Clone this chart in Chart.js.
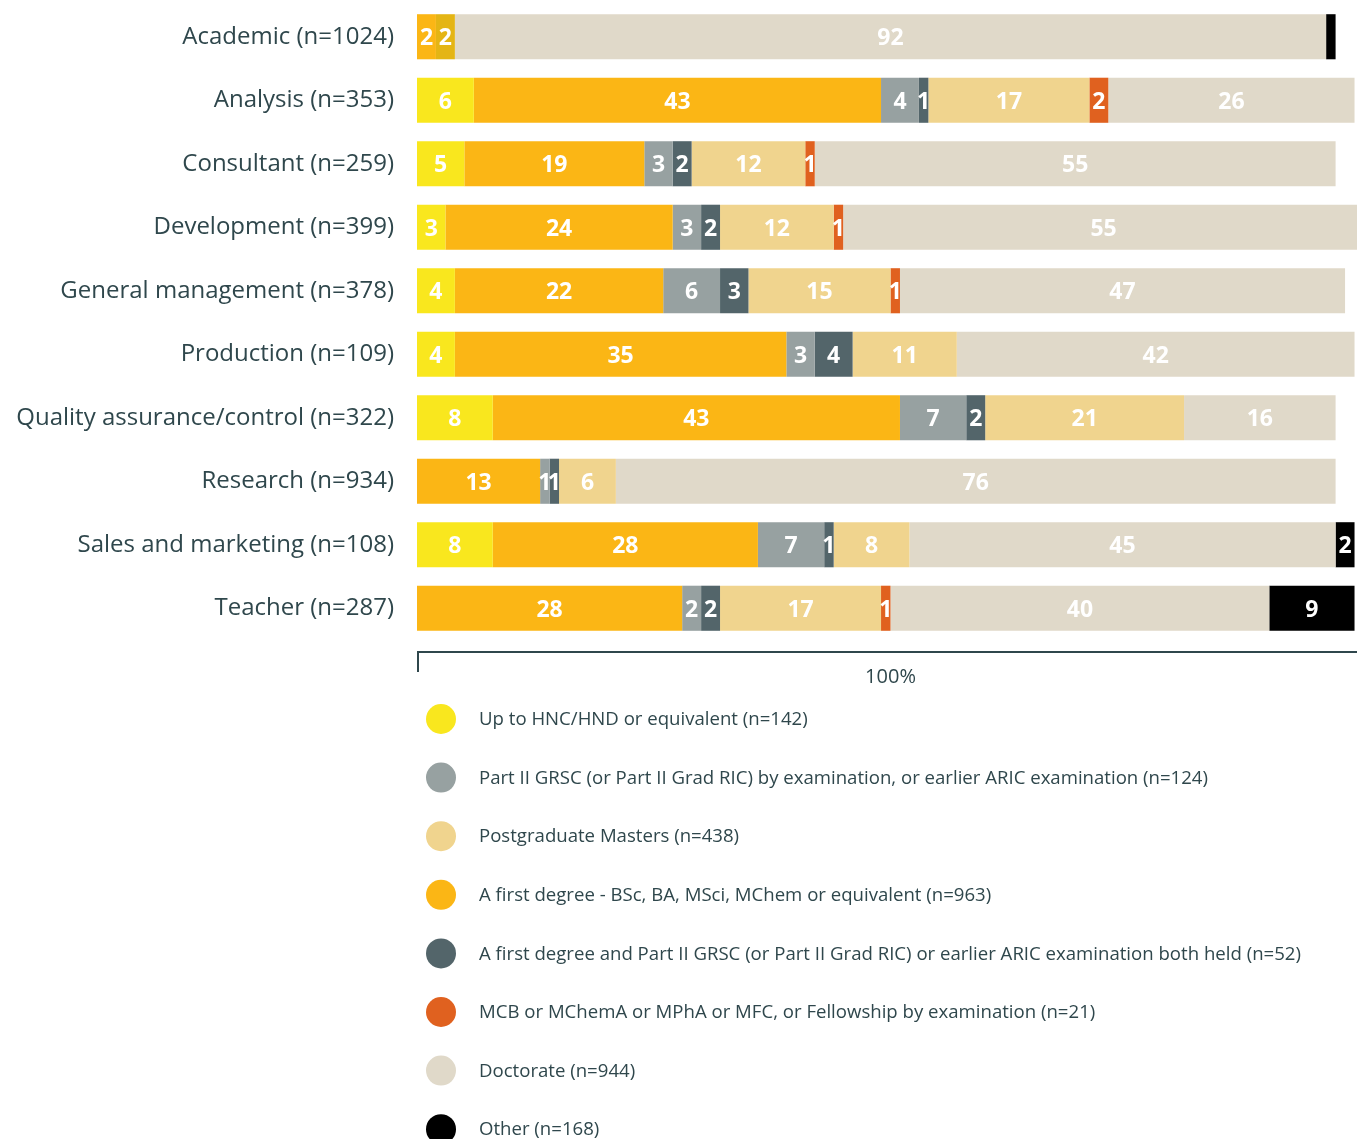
<!DOCTYPE html>
<html>
<head>
<meta charset="utf-8">
<title>Qualifications by job role</title>
<script src="https://cdn.jsdelivr.net/npm/chart.js@4"></script>
<style>
  html, body { margin: 0; padding: 0; background: #fff; overflow: hidden; }
  #wrap { width: 1370px; height: 1139px; position: relative; }
</style>
</head>
<body>
<div id="wrap"><canvas id="chart"></canvas></div>
<script>
// categories (job roles)
const categories = [
    "Academic (n=1024)",
    "Analysis (n=353)",
    "Consultant (n=259)",
    "Development (n=399)",
    "General management (n=378)",
    "Production (n=109)",
    "Quality assurance/control (n=322)",
    "Research (n=934)",
    "Sales and marketing (n=108)",
    "Teacher (n=287)"
];

// series values, % (stack order, left to right)
const hncVals       = [0, 6, 5, 3, 4, 4, 8, 0, 8, 0];
const firstVals     = [2, 43, 19, 24, 22, 35, 43, 13, 28, 28];
const partTwoVals   = [0, 4, 3, 3, 6, 3, 7, 1, 7, 2];
const bothVals      = [0, 1, 2, 2, 3, 4, 2, 1, 1, 2];
const mastersVals   = [2, 17, 12, 12, 15, 11, 21, 6, 8, 17];
const mcbVals       = [0, 2, 1, 1, 1, 0, 0, 0, 0, 1];
const doctorateVals = [92, 26, 55, 55, 47, 42, 16, 76, 45, 40];
const otherVals     = [1, 0, 0, 0, 0, 0, 0, 0, 2, 9];

// legend names
const seriesNames = [
    "Up to HNC/HND or equivalent (n=142)",
    "A first degree - BSc, BA, MSci, MChem or equivalent (n=963)",
    "Part II GRSC (or Part II Grad RIC) by examination, or earlier ARIC examination (n=124)",
    "A first degree and Part II GRSC (or Part II Grad RIC) or earlier ARIC examination both held (n=52)",
    "Postgraduate Masters (n=438)",
    "MCB or MChemA or MPhA or MFC, or Fellowship by examination (n=21)",
    "Doctorate (n=944)",
    "Other (n=168)"
];
const seriesColors = ["#F9E71E", "#FBB615", "#97A1A1", "#53656A", "#F0D48E", "#E0611F", "#E0D9C9", "#000000"];
// order in which the legend lists the series
const legendOrder = [0, 2, 4, 1, 3, 5, 6, 7];
// segments whose number is not printed [series, category]
const noLabel = [[7, 0]];

const textColor = "#2F474C";
const FONT = "'Open Sans', 'DejaVu Sans', sans-serif";

const allVals = [hncVals, firstVals, partTwoVals, bothVals, mastersVals, mcbVals, doctorateVals, otherVals];

const datasets = allVals.map((vals, i) => {
    let bg = seriesColors[i];
    // the masters block for Academic is a darker gold in the original
    if (i === 4) bg = categories.map((c, j) => j === 0 ? "#E4B515" : seriesColors[4]);
    return {
        label: seriesNames[i],
        data: vals,
        backgroundColor: bg,
        borderWidth: 0,
        categoryPercentage: 1,
        barPercentage: 0.71
    };
});

// white numbers in the middle of each block
const valueLabels = {
    id: "valueLabels",
    afterDatasetsDraw(chart) {
        const ctx = chart.ctx;
        ctx.save();
        ctx.fillStyle = "#fff";
        ctx.font = "bold 23px " + FONT;
        ctx.textAlign = "center";
        ctx.textBaseline = "middle";
        chart.data.datasets.forEach((ds, i) => {
            const meta = chart.getDatasetMeta(i);
            meta.data.forEach((bar, j) => {
                const v = ds.data[j];
                if (!v) return;
                if (noLabel.some(p => p[0] === i && p[1] === j)) return;
                const c = bar.getCenterPoint();
                ctx.fillText(String(v), c.x, c.y + 2);
            });
        });
        ctx.restore();
    }
};

// bottom axis line, "100%" and the legend list
const extras = {
    id: "extras",
    afterDraw(chart) {
        const ctx = chart.ctx;
        const area = chart.chartArea;
        const lineY = area.bottom + 12;
        ctx.save();
        ctx.strokeStyle = textColor;
        ctx.lineWidth = 2;
        ctx.beginPath();
        ctx.moveTo(area.left + 1, lineY + 20);
        ctx.lineTo(area.left + 1, lineY);
        ctx.lineTo(area.right, lineY);
        ctx.stroke();

        ctx.fillStyle = textColor;
        ctx.font = "20px " + FONT;
        ctx.textAlign = "center";
        ctx.textBaseline = "middle";
        ctx.fillText("100%", (area.left + area.right) / 2, lineY + 25);

        // legend
        ctx.textAlign = "left";
        ctx.font = "18.6px " + FONT;
        legendOrder.forEach((s, k) => {
            const y = 719 + k * 58.6;
            ctx.fillStyle = seriesColors[s];
            ctx.beginPath();
            ctx.arc(441, y, 15, 0, Math.PI * 2);
            ctx.fill();
            ctx.fillStyle = textColor;
            ctx.fillText(seriesNames[s], 479, y + 1);
        });
        ctx.restore();
    }
};

const ctx = document.getElementById("chart").getContext("2d");
new Chart(ctx, {
    type: "bar",
    data: { labels: categories, datasets: datasets },
    options: {
        indexAxis: "y",
        responsive: true,
        maintainAspectRatio: false,
        animation: false,
        layout: { padding: { top: 5, bottom: 499, right: 6, left: 0 } },
        plugins: {
            legend: { display: false },
            tooltip: { enabled: false }
        },
        scales: {
            x: {
                stacked: true,
                min: 0,
                max: 100,
                display: false
            },
            y: {
                stacked: true,
                offset: true,
                grid: { display: false, drawTicks: false },
                border: { display: false },
                ticks: {
                    color: textColor,
                    font: { family: FONT, size: 24 },
                    padding: 23
                },
                afterFit(scale) {
                    scale.width = 417;
                    // keep label padding from pushing the bars down
                    scale.paddingTop = 0;
                    scale.paddingBottom = 0;
                }
            }
        }
    },
    plugins: [valueLabels, extras]
});
</script>
</body>
</html>
